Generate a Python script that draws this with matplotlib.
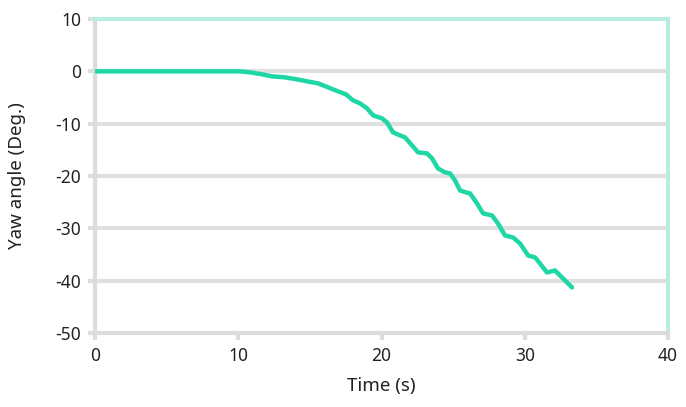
import matplotlib.pyplot as plt

# Yaw angle trace
time_s = [0.0, 10.12, 10.82, 11.66, 12.36, 13.26, 14.10, 14.80, 15.57, 16.27,
          16.96, 17.52, 18.01, 18.50, 18.99, 19.41, 20.03, 20.38, 20.80, 21.29,
          21.64, 22.13, 22.55, 23.18, 23.53, 23.94, 24.43, 24.78, 25.13, 25.48,
          25.90, 26.18, 26.67, 27.09, 27.71, 28.13, 28.62, 29.18, 29.67, 30.23,
          30.72, 31.06, 31.55, 32.11, 32.46, 32.88, 33.30]
yaw_deg = [0.0, 0.0, -0.19, -0.57, -0.96, -1.15, -1.53, -1.91, -2.29, -3.06,
           -3.82, -4.40, -5.54, -6.12, -7.07, -8.41, -8.99, -9.75, -11.66, -12.24,
           -12.62, -14.15, -15.49, -15.68, -16.63, -18.55, -19.31, -19.50, -20.84, -22.75,
           -23.14, -23.33, -25.24, -27.15, -27.53, -29.06, -31.36, -31.74, -32.89, -35.18,
           -35.56, -36.71, -38.43, -38.05, -39.00, -40.15, -41.30]

x_ticks = [0, 10, 20, 30, 40]
y_ticks = [10, 0, -10, -20, -30, -40, -50]

plt.rcParams['font.family'] = ['Noto Sans', 'DejaVu Sans']
plt.rcParams['axes.unicode_minus'] = False

fig = plt.figure(figsize=(6.86, 4.07), dpi=100)
ax = fig.add_axes([0.1385, 0.1818, 0.8353, 0.7715])

ax.plot(time_s, yaw_deg, color='#1ed7a5', linewidth=3.2, solid_capstyle='round',
        solid_joinstyle='round', zorder=3)

ax.set_xlim(0, 40)
ax.set_ylim(-50, 10)
ax.set_xticks(x_ticks)
ax.set_yticks(y_ticks)

ax.grid(axis='y', color='#e0e0e0', linewidth=3)
ax.set_axisbelow(True)

for side in ['left', 'bottom']:
    ax.spines[side].set_color('#dcdcdc')
    ax.spines[side].set_linewidth(3)
for side in ['top', 'right']:
    ax.spines[side].set_color('#b8eedf')
    ax.spines[side].set_linewidth(3)

ax.tick_params(axis='both', colors='#dcdcdc', length=5, width=3, labelcolor='#222222',
               labelsize=12.5, pad=5)

ax.set_xlabel('Time (s)', fontsize=13.5, color='#222222', labelpad=9)
ax.set_ylabel('Yaw angle (Deg.)', fontsize=13.5, color='#222222', labelpad=21)

fig.savefig('out.png', dpi=100)
